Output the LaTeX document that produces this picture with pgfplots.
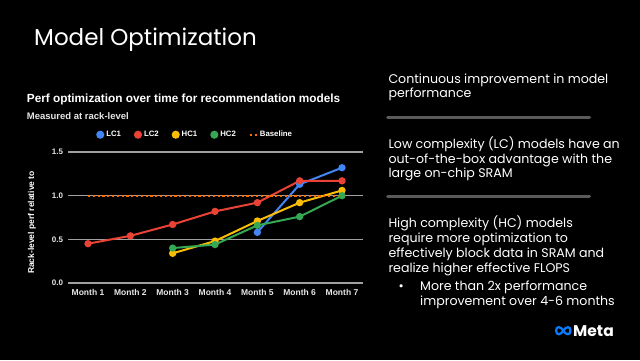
\documentclass[border=0pt]{standalone}
\usepackage{pgfplots}
\pgfplotsset{compat=1.18}
\usepackage{fontspec}
\setmainfont{Poppins}
\newfontfamily\arial{Liberation Sans}
\definecolor{lcone}{HTML}{4285F4}
\definecolor{lctwo}{HTML}{EA4335}
\definecolor{hcone}{HTML}{FBBC04}
\definecolor{hctwo}{HTML}{34A853}
\definecolor{basec}{HTML}{FF6D01}
\definecolor{gridc}{HTML}{A0A0A0}
\definecolor{sepc}{HTML}{5A5A5A}
\definecolor{metablue}{HTML}{0A7CFF}
\definecolor{ticktxt}{HTML}{E6E6E6}
\begin{document}
\begin{tikzpicture}[x=1pt,y=1pt]
\fill[black] (0,0) rectangle (640,360);
% slide title
\node[anchor=base west, inner sep=0, text=white, font=\fontsize{23}{27}\selectfont] at (34,315) {Model Optimization};
% chart title
\node[anchor=base west, inner sep=0, text=white, font=\arial\bfseries\fontsize{11.8}{14}\selectfont] at (26.7,257.3) {Perf optimization over time for recommendation models};
\node[anchor=base west, inner sep=0, text=ticktxt, font=\arial\bfseries\fontsize{9.5}{11}\selectfont] at (26.7,241) {Measured at rack-level};
\node[rotate=90, anchor=center, inner sep=0, text=white, font=\arial\bfseries\fontsize{8.5}{10}\selectfont] at (32,137.5) {Rack-level perf relative to};
% right column text
\begin{scope}[every node/.style={anchor=base west, inner sep=0, text=white, font=\fontsize{12.6}{14}\selectfont}]
\node at (388.3,276.7) {Continuous improvement in model};
\node at (388.3,263) {performance};
\node at (388.3,211.7) {Low complexity (LC) models have an};
\node at (388.3,197) {out-of-the-box advantage with the};
\node at (388.3,182.3) {large on-chip SRAM};
\node at (388.3,132.7) {High complexity (HC) models};
\node at (388.3,117.7) {require more optimization to};
\node at (388.3,102.7) {effectively block data in SRAM and};
\node at (388.3,87.7) {realize higher effective FLOPS};
\node at (420,69.3) {More than 2x performance};
\node at (420,54.7) {improvement over 4-6 months};
\node at (398.5,69.3) {\textbullet};
\end{scope}
\draw[sepc, line width=3pt, line cap=round] (387.5,242.7) -- (589.5,242.7);
\draw[sepc, line width=3pt, line cap=round] (387.5,163.3) -- (589.5,163.3);
% Meta logo
\draw[metablue, line width=2.2pt] (563.3,29.3) .. controls (566,34) and (570.5,34) .. (570.5,29.3) .. controls (570.5,24.6) and (566,24.6) .. (563.3,29.3) .. controls (560.6,34) and (556.1,34) .. (556.1,29.3) .. controls (556.1,24.6) and (560.6,24.6) .. (563.3,29.3);
\node[anchor=west, inner sep=0, text=white, font=\bfseries\fontsize{15.5}{17}\selectfont] at (573,29.3) {Meta};
% chart
\begin{axis}[
  at={(68pt,77pt)}, anchor=south west,
  scale only axis, width=295pt, height=131pt,
  xmin=0.5276, xmax=7.496, ymin=0, ymax=1.5,
  clip=false,
  axis line style={draw=none},
  major tick length=0pt,
  ytick={0,0.5,1,1.5}, yticklabels={0.0,0.5,1.0,1.5},
  xtick={1,2,3,4,5,6,7},
  xticklabels={Month 1,Month 2,Month 3,Month 4,Month 5,Month 6,Month 7},
  ymajorgrids,
  major grid style={gridc, line width=1.2pt},
  tick label style={text=ticktxt, inner sep=0pt},
  yticklabel style={font=\arial\bfseries\fontsize{8}{9}\selectfont, anchor=east, xshift=-4.7pt},
  xticklabel style={font=\arial\bfseries\fontsize{8.5}{10}\selectfont, anchor=north, yshift=-6.3pt},
  legend columns=5,
  legend style={draw=none, fill=none, text=white, font=\arial\bfseries\fontsize{7.8}{9}\selectfont,
    at={(0.431,1.132)}, anchor=center,
    /tikz/every even column/.append style={column sep=11pt}},
]
\addplot[lcone, line width=2pt, mark=*, mark size=2.6pt,
  legend image code/.code={\fill[lcone] (3pt,0) circle (3pt);}]
  coordinates {(5,0.58)(6,1.13)(7,1.32)};
\addlegendentry{LC1}
\addplot[lctwo, line width=2pt, mark=*, mark size=2.6pt,
  legend image code/.code={\fill[lctwo] (3pt,0) circle (3pt);}]
  coordinates {(1,0.45)(2,0.54)(3,0.67)(4,0.82)(5,0.92)(6,1.17)(7,1.17)};
\addlegendentry{LC2}
\addplot[hcone, line width=2pt, mark=*, mark size=2.6pt,
  legend image code/.code={\fill[hcone] (3pt,0) circle (3pt);}]
  coordinates {(3,0.34)(4,0.48)(5,0.71)(6,0.92)(7,1.06)};
\addlegendentry{HC1}
\addplot[hctwo, line width=2pt, mark=*, mark size=2.6pt,
  legend image code/.code={\fill[hctwo] (3pt,0) circle (3pt);}]
  coordinates {(3,0.40)(4,0.44)(5,0.66)(6,0.76)(7,1.00)};
\addlegendentry{HC2}
\addplot[basec, line width=2pt, dash pattern=on 2.2pt off 2.6pt,
  legend image code/.code={\draw[basec, line width=2pt, dash pattern=on 2.2pt off 2.6pt] (0,0) -- (7pt,0);}]
  coordinates {(1,1)(7,1)};
\addlegendentry{Baseline}
\end{axis}
\end{tikzpicture}
\end{document}
